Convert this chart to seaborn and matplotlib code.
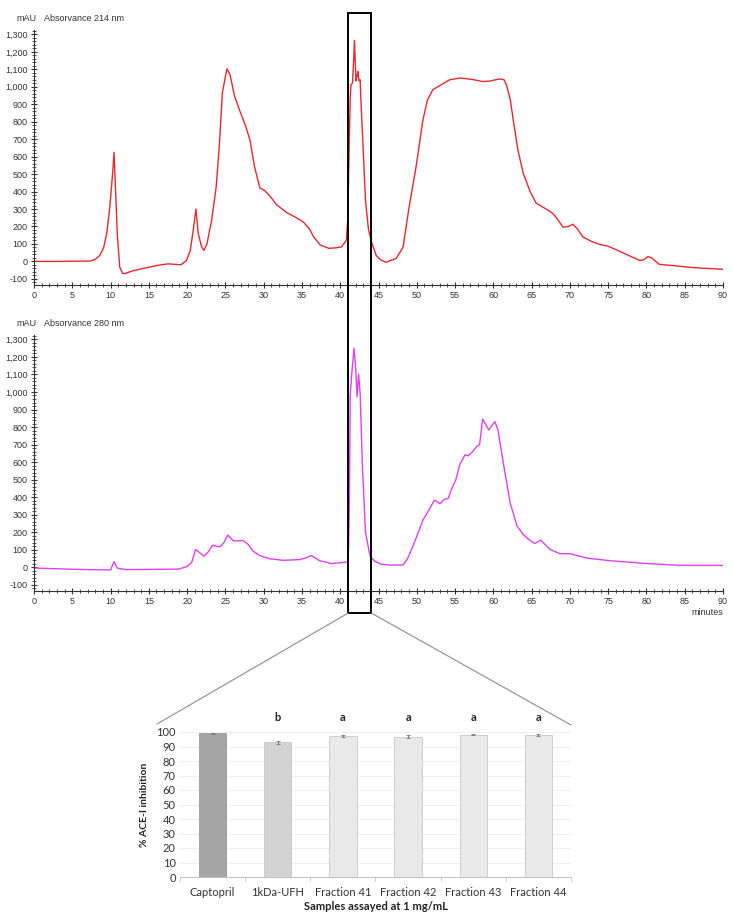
import matplotlib
matplotlib.use("Agg")
import matplotlib.pyplot as plt
import matplotlib.ticker as mticker
from matplotlib.patches import Rectangle
from matplotlib.lines import Line2D
from matplotlib.transforms import blended_transform_factory
import numpy as np
import pandas as pd
import seaborn as sns

# chromatogram at 214 nm (minutes, mAU)
t214 = [0, 3, 7.3, 8.0, 8.6, 9.1, 9.5, 9.9, 10.3, 10.45, 10.6, 10.9, 11.2, 11.6, 12.0,
        12.8, 14.5, 16.2, 17.5, 19.2, 19.9, 20.4, 20.8, 21.15, 21.45, 21.9, 22.2, 22.6,
        23.2, 23.8, 24.2, 24.6, 25.2, 25.6, 26.2, 26.9, 27.6, 28.2, 28.8, 29.5, 30.1,
        30.9, 31.7, 33.0, 34.2, 35.2, 36.0, 36.5, 37.4, 38.5, 39.5, 40.2, 40.8, 41.0,
        41.1, 41.3, 41.4, 41.6, 41.75, 41.86, 42.05, 42.2, 42.3, 42.45, 42.6, 42.7,
        43.0, 43.3, 43.7, 44.1, 44.7, 45.3, 46.0, 47.3, 48.2, 49.0, 49.9, 50.8, 51.4,
        52.1, 53.4, 54.3, 55.6, 56.5, 57.5, 58.6, 59.5, 60.8, 61.4, 61.7, 62.2, 62.6,
        63.2, 63.9, 64.8, 65.6, 66.5, 67.1, 67.8, 68.4, 69.1, 69.8, 70.4, 71.0, 71.7,
        72.8, 73.9, 75.0, 76.0, 77.0, 78.0, 79.1, 79.6, 80.2, 80.7, 81.2, 81.7, 84.0,
        86.0, 88.0, 90.0]
a214 = [0, 0, 2, 12, 34, 80, 160, 310, 520, 625, 465, 140, -33, -70, -68,
        -55, -38, -22, -14, -19, 5, 60, 180, 300, 160, 82, 63, 102,
        235, 428, 658, 965, 1103, 1070, 945, 860, 780, 697, 544, 420, 407,
        370, 324, 280, 252, 225, 185, 142, 94, 75, 78, 84, 122, 253,
        500, 925, 1011, 1020, 1150, 1266, 1034, 1060, 1088, 1034, 1040, 925,
        638, 350, 180, 110, 34, 8, -5, 17, 80, 312, 540, 810, 925,
        983, 1017, 1040, 1050, 1046, 1040, 1030, 1032, 1045, 1040, 1012, 930, 810,
        640, 505, 400, 333, 310, 295, 274, 240, 196, 200, 213, 185, 140,
        115, 97, 87, 68, 48, 28, 6, 8, 28, 20, 0, -17, -26,
        -35, -40, -45]

# chromatogram at 280 nm
t280 = [0, 3, 5, 7, 10, 10.45, 10.9, 12, 15, 18.9, 20.0, 20.6, 21.1, 21.6, 22.2, 22.8,
        23.3, 24.3, 24.8, 25.3, 26.1, 27.3, 28.0, 28.6, 29.6, 30.8, 32.5, 34.7, 35.6,
        36.2, 37.3, 38.9, 40.8, 41.0, 41.1, 41.2, 41.3, 41.5, 41.8, 42.0, 42.2, 42.4,
        42.6, 42.9, 43.3, 43.9, 44.5, 45.4, 46.5, 48.2, 48.8, 49.5, 50.2, 50.8, 51.5,
        52.3, 53.0, 53.7, 54.1, 54.6, 55.1, 55.6, 56.3, 56.7, 57.3, 57.8, 58.2, 58.6,
        59.4, 60.2, 60.6, 61.3, 62.2, 63.1, 63.9, 64.6, 65.4, 66.2, 67.4, 68.7, 70.0,
        72.2, 75.2, 79.6, 84.4, 90]
a280 = [-4, -8, -11, -13, -15, 32, -5, -13, -12, -10, 5, 28, 102, 85, 64, 90,
        125, 117, 140, 184, 150, 153, 130, 93, 65, 49, 40, 44, 55,
        68, 38, 21, 30, 28, 121, 386, 973, 1100, 1250, 1150, 973, 1102,
        994, 575, 199, 64, 35, 17, 13, 13, 50, 121, 200, 269, 320,
        383, 364, 390, 392, 453, 500, 585, 642, 636, 660, 689, 699, 845,
        784, 831, 784, 595, 367, 235, 188, 160, 136, 155, 102, 78, 78,
        53, 38, 23, 11, 11]

# ACE-I inhibition assay
samples = ["Captopril", "1kDa-UFH", "Fraction 41", "Fraction 42", "Fraction 43", "Fraction 44"]
inhibition = [99.2, 92.8, 97.3, 96.8, 98.0, 98.0]
errors = [0.3, 1.0, 0.8, 1.0, 0.4, 0.8]
letters = ["", "b", "a", "a", "a", "a"]
bar_colors = ["#a5a5a5", "#d3d3d3", "#e9e9e9", "#e9e9e9", "#e9e9e9", "#e9e9e9"]

box_start, box_end = 41.05, 44.05

sns.set_style("ticks")
plt.rcParams["font.family"] = ["Liberation Sans", "DejaVu Sans"]
plt.rcParams["axes.unicode_minus"] = False

W, H = 733, 916
fig = plt.figure(figsize=(W / 100, H / 100), dpi=100)


def px_axes(x0, y0, x1, y1):
    return fig.add_axes([x0 / W, 1 - y1 / H, (x1 - x0) / W, (y1 - y0) / H])


def chrom(ax, t, a, color, title):
    sns.lineplot(x=t, y=a, ax=ax, color=color, lw=1.0, sort=False, estimator=None)
    ax.set_xlim(0, 90)
    ax.set_ylim(-135, 1325)
    ax.xaxis.set_major_locator(mticker.MultipleLocator(5))
    ax.xaxis.set_minor_locator(mticker.MultipleLocator(1))
    ax.yaxis.set_major_locator(mticker.FixedLocator(range(-100, 1301, 100)))
    ax.yaxis.set_minor_locator(mticker.FixedLocator(range(-120, 1321, 20)))
    ax.yaxis.set_major_formatter(mticker.StrMethodFormatter("{x:,.0f}"))
    ax.tick_params(which="major", direction="inout", length=5, width=0.8,
                   labelsize=6.5, labelcolor="#333333", color="#333333", pad=2)
    ax.tick_params(which="minor", direction="inout", length=3, width=0.6, color="#333333")
    for s in ["top", "right"]:
        ax.spines[s].set_visible(False)
    for s in ["left", "bottom"]:
        ax.spines[s].set_color("#333333")
        ax.spines[s].set_linewidth(0.8)
    ax.set_xlabel("")
    ax.set_ylabel("")
    ax.text(-0.026, 1.045, "mAU", transform=ax.transAxes, fontsize=6.5,
            color="#333333", ha="left", va="center")
    ax.text(0.015, 1.045, title, transform=ax.transAxes, fontsize=6.5,
            color="#333333", ha="left", va="center")


ax1 = px_axes(34, 30, 723, 285)
chrom(ax1, t214, a214, "#e8282e", "Absorvance 214 nm")
ax2 = px_axes(34, 335, 723, 591)
chrom(ax2, t280, a280, "#e23ff0", "Absorvance 280 nm")
ax2.text(1.0, -0.085, "minutes", transform=ax2.transAxes, fontsize=6.5,
         color="#333333", ha="right", va="center")

# selection box spanning both chromatograms
tr = blended_transform_factory(ax1.transData, fig.transFigure)
y_bot, y_top = 1 - 613 / H, 1 - 13 / H
fig.add_artist(Rectangle((box_start, y_bot), box_end - box_start, y_top - y_bot,
                         transform=tr, fill=False, ec="black", lw=1.4, clip_on=False))

# bar chart
bar_font = ["Lato", "DejaVu Sans"]
ax3 = px_axes(180, 732, 571, 877)
df = pd.DataFrame({"sample": samples, "inhibition": inhibition})
sns.barplot(data=df, x="sample", y="inhibition", hue="sample", palette=bar_colors,
            legend=False, width=0.42, ax=ax3, zorder=2)
for p, c in zip(ax3.patches, bar_colors):
    p.set_edgecolor("#c8c8c8" if c != "#a5a5a5" else "#999999")
    p.set_linewidth(0.6)
ax3.errorbar(range(len(samples)), inhibition, yerr=errors, fmt="none",
             ecolor="#777777", elinewidth=0.7, capsize=1.5, capthick=0.6, zorder=3)
for i, lab in enumerate(letters):
    if lab:
        ax3.text(i, 110, lab, ha="center", va="center", fontsize=8, family=bar_font,
                 fontweight="bold", color="#222222", clip_on=False)
ax3.set_xlim(-0.5, len(samples) - 0.5)
ax3.set_ylim(0, 100)
ax3.set_yticks(range(0, 101, 10))
ax3.yaxis.grid(True, color="#ececec", lw=0.6, zorder=0)
ax3.set_axisbelow(True)
ax3.set_xticks(np.arange(-0.5, len(samples), 1), minor=True)
ax3.tick_params(axis="x", which="major", length=0, labelsize=8, labelcolor="#333333", pad=7)
ax3.tick_params(axis="x", which="minor", length=3, color="#bfbfbf", width=0.6)
ax3.tick_params(axis="y", length=0, labelsize=8, labelcolor="#333333", pad=3)
for lab in ax3.get_xticklabels() + ax3.get_yticklabels():
    lab.set_family(bar_font)
for s in ["top", "right", "left"]:
    ax3.spines[s].set_visible(False)
ax3.spines["bottom"].set_color("#bfbfbf")
ax3.spines["bottom"].set_linewidth(0.7)
ax3.set_xlabel("Samples assayed at 1 mg/mL", fontsize=8, fontweight="bold",
               color="#222222", labelpad=2, family=bar_font)
ax3.set_ylabel("% ACE-I inhibition", fontsize=7.5, fontweight="bold", color="#222222",
               labelpad=5, family=bar_font)

# zoom lines from the box to the bar chart
x_left = (34 + box_start / 90 * (723 - 34)) / W
x_right = (34 + box_end / 90 * (723 - 34)) / W
fig.add_artist(Line2D([x_left, 157 / W], [y_bot, 1 - 724 / H], transform=fig.transFigure,
                      color="#8c8c8c", lw=0.8))
fig.add_artist(Line2D([x_right, 571 / W], [y_bot, 1 - 725 / H], transform=fig.transFigure,
                      color="#8c8c8c", lw=0.8))

fig.savefig("out.png", dpi=100, facecolor="white")
